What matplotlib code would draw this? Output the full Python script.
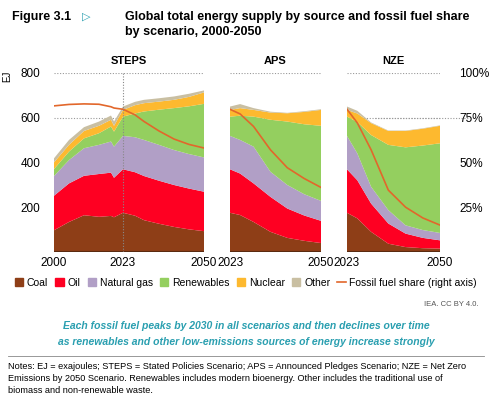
import matplotlib
matplotlib.use("Agg")
import matplotlib.pyplot as plt
from matplotlib.lines import Line2D
from matplotlib.patches import Patch

plt.rcParams['font.family'] = ['Liberation Sans', 'DejaVu Sans']

# STEPS
steps_years = [2000, 2005, 2010, 2015, 2019, 2020, 2023, 2027, 2030, 2035, 2040, 2045, 2050]
steps_coal  = [97, 134, 164, 157, 161, 155, 175, 162, 142, 126, 112, 101, 93]
steps_oil_t = [251, 306, 340, 348, 354, 331, 369, 356, 339, 318, 299, 283, 269]
steps_gas_t = [339, 410, 463, 478, 493, 470, 518, 512, 500, 478, 455, 437, 422]
steps_ren_t = [370, 448, 507, 530, 560, 537, 604, 618, 627, 635, 642, 650, 661]
steps_nuc_t = [400, 478, 540, 563, 590, 563, 634, 655, 664, 671, 679, 692, 712]
steps_oth_t = [418, 500, 557, 582, 609, 582, 649, 670, 679, 686, 694, 706, 721]
steps_share = [81.5, 82.3, 82.6, 82.4, 81.0, 80.3, 79.6, 76.5, 72.8, 67.5, 63.0, 60.0, 58.0]

# APS
aps_years = [2023, 2026, 2030, 2035, 2040, 2045, 2050]
aps_coal  = [175, 165, 134, 90, 63, 50, 40]
aps_oil_t = [369, 350, 306, 246, 194, 163, 139]
aps_gas_t = [518, 500, 470, 358, 299, 258, 228]
aps_ren_t = [604, 608, 604, 590, 582, 570, 563]
aps_nuc_t = [634, 642, 634, 622, 619, 625, 634]
aps_oth_t = [649, 660, 642, 626, 621, 628, 637]
aps_share = [79.6, 77.0, 70.0, 57.0, 47.0, 41.0, 36.0]

# NZE
nze_years = [2023, 2026, 2030, 2035, 2040, 2045, 2050]
nze_coal  = [175, 150, 90, 37, 22, 17, 15]
nze_oil_t = [369, 320, 216, 127, 82, 63, 52]
nze_gas_t = [518, 440, 291, 187, 119, 98, 85]
nze_ren_t = [604, 580, 522, 478, 467, 475, 485]
nze_nuc_t = [634, 618, 575, 540, 540, 550, 563]
nze_oth_t = [649, 630, 578, 542, 542, 552, 565]
nze_share = [79.6, 72.0, 57.0, 34.5, 25.0, 19.0, 15.0]

colors = ['#8e3e17', '#fe0022', '#b19fc6', '#94cf5f', '#fdb92f', '#c9bfa2']
line_c = '#e2672b'
labels = ['Coal', 'Oil', 'Natural gas', 'Renewables', 'Nuclear', 'Other']

fig = plt.figure(figsize=(4.92, 4.07), dpi=100)
W, H = 492, 407
def ax_at(x0, x1):
    return fig.add_axes([x0 / W, 1 - 252 / H, (x1 - x0) / W, (252 - 72.7) / H])

panels = [
    ("STEPS", 54, 204, steps_years, [steps_coal, steps_oil_t, steps_gas_t, steps_ren_t, steps_nuc_t, steps_oth_t], steps_share),
    ("APS", 230, 321, aps_years, [aps_coal, aps_oil_t, aps_gas_t, aps_ren_t, aps_nuc_t, aps_oth_t], aps_share),
    ("NZE", 347, 440, nze_years, [nze_coal, nze_oil_t, nze_gas_t, nze_ren_t, nze_nuc_t, nze_oth_t], nze_share),
]
axes = []
for name, x0, x1, yrs, tops, share in panels:
    ax = ax_at(x0, x1)
    axes.append(ax)
    layers = [tops[0]] + [[t - b for t, b in zip(tops[i], tops[i - 1])] for i in range(1, 6)]
    ax.stackplot(yrs, layers, colors=colors, linewidth=0)
    ax.plot(yrs, [s / 100 * 800 for s in share], color=line_c, lw=1.2)
    ax.axhline(2, color='#5a2a10', lw=1.5)
    ax.set_xlim(yrs[0], yrs[-1])
    ax.set_ylim(0, 800)
    for y in [600, 800]:
        ax.axhline(y, color='#999999', lw=0.8, ls=(0, (1, 1.5)), zorder=0)
    ax.set_title(name, fontsize=8, fontweight='bold', pad=6)
    for s in ax.spines.values():
        s.set_visible(False)
    ax.tick_params(length=0, labelsize=8.5)
    ax.set_xticks([yrs[0], yrs[-1]] if name != "STEPS" else [2000, 2023, 2050])
    ax.set_yticks([])
axes[0].axvline(2023, color='#888888', lw=0.8, ls=(0, (1, 1.5)))
axes[0].set_yticks([200, 400, 600, 800])
axes[0].tick_params(axis='y', pad=10)
axes[0].set_ylabel('EJ', fontsize=7, rotation=90)
axes[0].yaxis.set_label_coords(-0.28, 0.98)
axes[2].axhline(600, color='#999999', lw=0.8, ls=(0, (1, 1.5)), xmin=0.3, xmax=1.3, clip_on=False)
r = axes[2].twinx()
r.set_ylim(0, 1)
r.set_yticks([0.25, 0.5, 0.75, 1.0])
r.set_yticklabels(['25%', '50%', '75%', '100%'])
r.tick_params(length=0, labelsize=8.5, pad=14)
for s in r.spines.values():
    s.set_visible(False)

handles = [Patch(color=c) for c in colors] + [Line2D([], [], color=line_c, lw=1.2)]
fig.legend(handles, labels + ['Fossil fuel share (right axis)'], loc='center', bbox_to_anchor=(0.5, 1 - 283 / H),
           ncol=7, frameon=False, fontsize=7.5, handlelength=0.8, handleheight=0.8, columnspacing=0.7, handletextpad=0.35)

fig.text(12 / W, 1 - 17 / H, 'Figure 3.1', fontsize=9, fontweight='bold', va='center')
fig.text(82 / W, 1 - 17 / H, '\u25B7', fontsize=8, color='#2a9fb0', va='center')
fig.text(125 / W, 1 - 17 / H, 'Global total energy supply by source and fossil fuel share', fontsize=9, fontweight='bold', va='center')
fig.text(125 / W, 1 - 32 / H, 'by scenario, 2000-2050', fontsize=9, fontweight='bold', va='center')
fig.text(478 / W, 1 - 305 / H, 'IEA. CC BY 4.0.', fontsize=5.5, color='#555555', ha='right', va='center')
fig.text(0.5, 1 - 326 / H, 'Each fossil fuel peaks by 2030 in all scenarios and then declines over time', fontsize=7.5,
         style='italic', fontweight='bold', color='#2a9fb0', ha='center', va='center')
fig.text(0.5, 1 - 342 / H, 'as renewables and other low-emissions sources of energy increase strongly', fontsize=7.5,
         style='italic', fontweight='bold', color='#2a9fb0', ha='center', va='center')
fig.add_artist(Line2D([8 / W, 484 / W], [1 - 356 / H] * 2, color='#888888', lw=0.6))
notes = ('Notes: EJ = exajoules; STEPS = Stated Policies Scenario; APS = Announced Pledges Scenario; NZE = Net Zero\n'
         'Emissions by 2050 Scenario. Renewables includes modern bioenergy. Other includes the traditional use of\n'
         'biomass and non-renewable waste.')
fig.text(8 / W, 1 - 362 / H, notes, fontsize=6.6, va='top', linespacing=1.4)

fig.savefig('out.png', dpi=100)
